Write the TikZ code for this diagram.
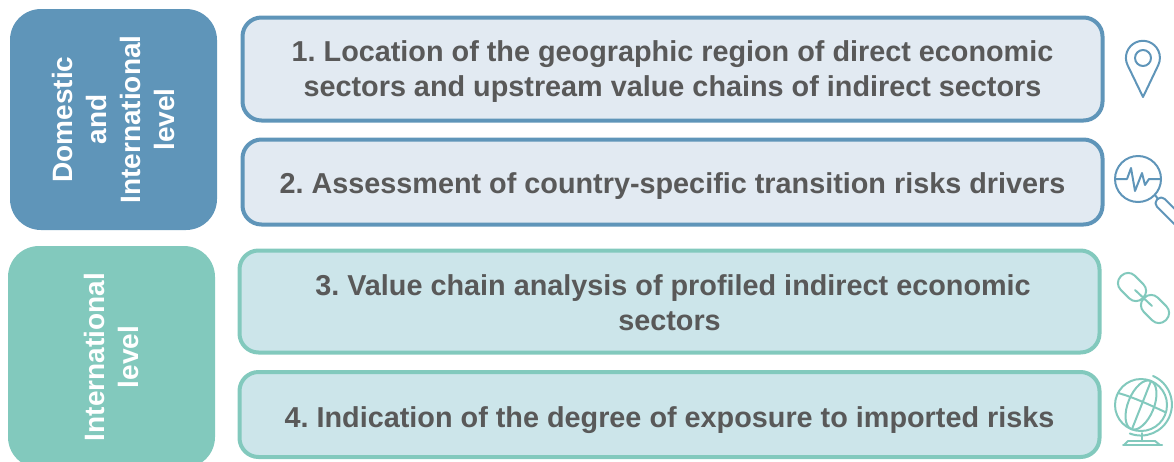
\documentclass[tikz,border=0pt]{standalone}
\usepackage{fontspec}
\setmainfont{Liberation Sans}
\definecolor{bluedark}{HTML}{5F95B9}
\definecolor{bluelight}{HTML}{E2EAF2}
\definecolor{tealdark}{HTML}{82C9BD}
\definecolor{teallight}{HTML}{CCE5EA}
\definecolor{textgrey}{HTML}{595959}
\tikzset{
  level/.style={rounded corners=31pt, minimum width=207pt, text=white, font=\bfseries\fontsize{28}{34}\selectfont\frenchspacing, align=center},
  stepbox/.style={draw, line width=4pt, rounded corners=19pt, minimum width=860pt},
  steptext/.style={text=textgrey, font=\bfseries\fontsize{28.8}{35}\selectfont\frenchspacing, align=center},
  icon/.style={line width=2pt, line cap=round, line join=round},
  linkbox/.style={draw, rotate=-45, rounded corners=9.5pt, minimum width=31pt, minimum height=20pt},
}
\begin{document}
\begin{tikzpicture}[x=1pt,y=-1pt]
\useasboundingbox (0,0) rectangle (1174,461);
\clip (0,0) rectangle (1174,461);
% left column
\node[level, fill=bluedark, minimum height=221pt] (domestic) at (113.5,119.5) {};
\node[level, rotate=90] (domestictext) at (domestic.center) {Domestic\\and\\International\\level};
\node[level, fill=tealdark, minimum height=222pt] (international) at (111.5,357) {};
\node[level, rotate=90] (internationaltext) at (international.center) {International\\level};
% steps
\node[stepbox, draw=bluedark, fill=bluelight, minimum height=103pt] (location) at (672.5,69) {};
\node[steptext] (locationtext) at ([yshift=-3pt]location.center) {1. Location of the geographic region of direct economic\\sectors and upstream value chains of indirect sectors};
\node[stepbox, draw=bluedark, fill=bluelight, minimum height=85pt] (assessment) at (672.5,182) {};
\node[steptext] (assessmenttext) at ([yshift=-4pt]assessment.center) {2. Assessment of country-specific transition risks drivers};
\node[stepbox, draw=tealdark, fill=teallight, minimum height=102pt] (chain) at (669.5,301.5) {};
\node[steptext] (chaintext) at ([yshift=-1pt]chain.center) {\hspace*{7pt}3. Value chain analysis of profiled indirect economic\\sectors};
\node[stepbox, draw=tealdark, fill=teallight, minimum height=85pt] (exposure) at (669.5,414.5) {};
\node[steptext] (exposuretext) at ([yshift=-6pt]exposure.center) {4. Indication of the degree of exposure to imported risks};
% pin
\begin{scope}[icon, draw=bluedark]
\draw (1143,97) -- (1127.5,65) arc[start angle=205, end angle=-25, radius=17pt] -- cycle;
\draw (1143,58) circle (8pt);
\end{scope}
% magnifier
\begin{scope}[icon, draw=bluedark]
\draw (1138,179) circle (23pt);
\draw (1115,179) -- (1127,179) -- (1131,168) -- (1135,191) -- (1142,173) -- (1145,185) -- (1149,179) -- (1160,179);
\draw (1155,195) -- (1158,199);
\node[draw, rotate=-45, rounded corners=5pt, minimum width=36pt, minimum height=11pt] (handle) at (1170,212) {};
\end{scope}
% links
\begin{scope}[icon, draw=tealdark]
\node[linkbox] (linkone) at (1132,287) {};
\node[linkbox] (linktwo) at (1155,309) {};
\draw (1135,290) -- (1152,306);
\end{scope}
% globe
\begin{scope}[icon, draw=tealdark]
\draw (1141,405) circle (26pt);
\draw[rotate around={-22:(1141,405)}] (1141,405) ellipse (13pt and 26pt);
\draw (1151,381) -- (1132,429);
\draw (1118,393) .. controls (1133,397) and (1150,405) .. (1165,412);
\draw (1153,376) arc[start angle=67, end angle=-111, radius=31pt];
\draw (1142,433) -- (1142,441);
\draw (1128,441) -- (1155,441);
\draw (1128,441) -- (1124,445);
\draw (1155,441) -- (1160,445);
\draw (1123,445) -- (1162,445);
\end{scope}
\end{tikzpicture}
\end{document}
